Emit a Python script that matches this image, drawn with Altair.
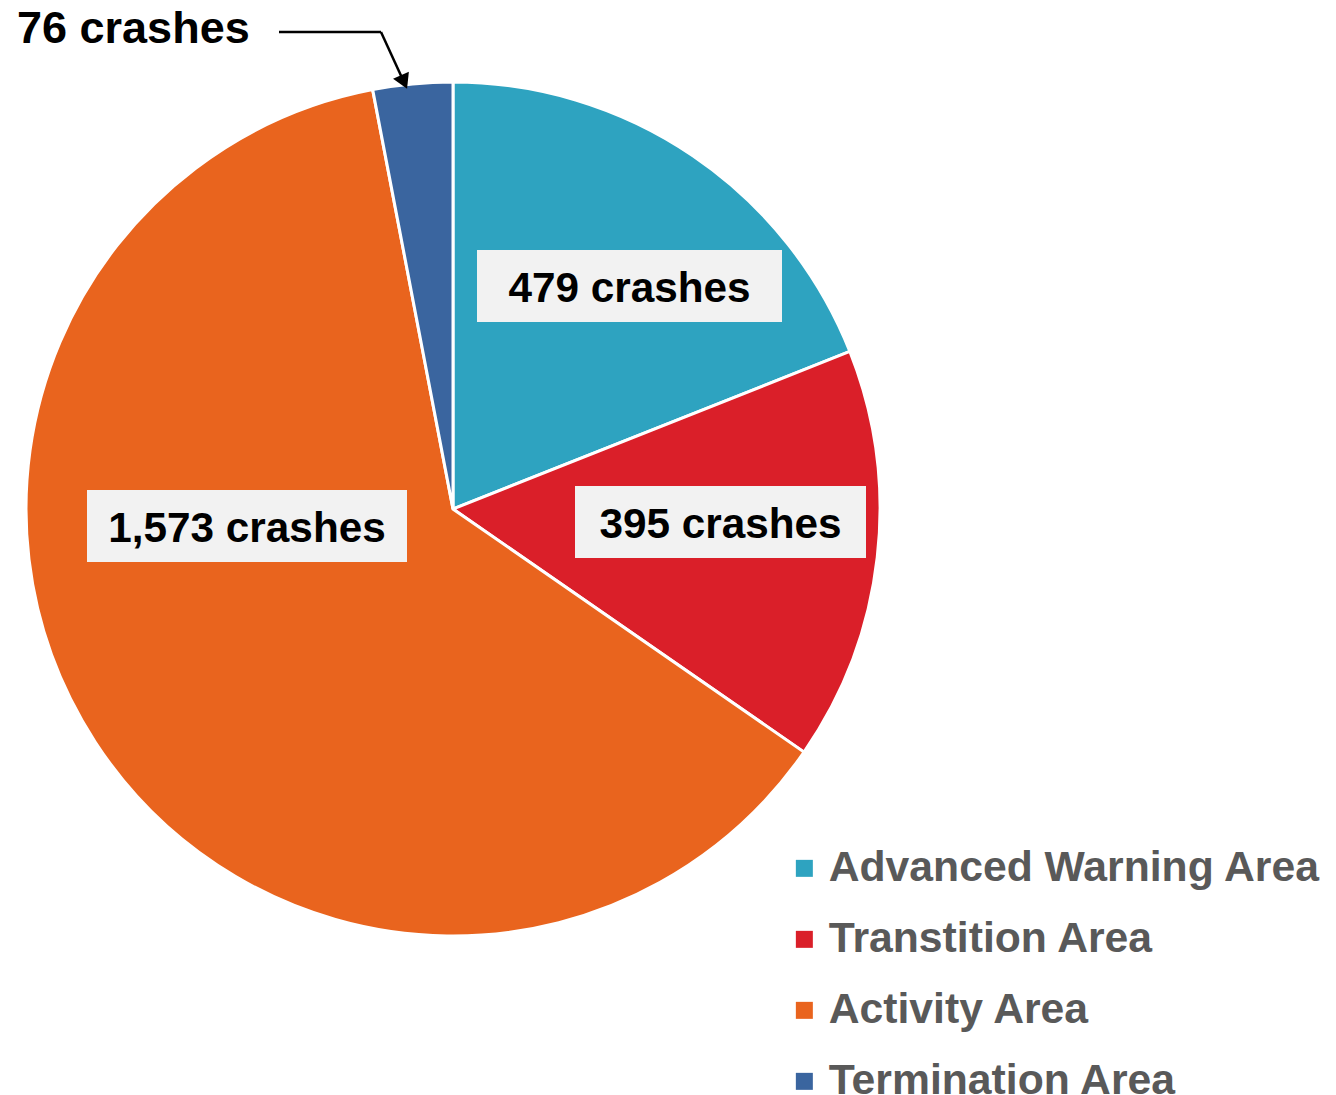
import altair as alt
import pandas as pd

categories = ["Advanced Warning Area", "Transtition Area", "Activity Area", "Termination Area"]
crashes = [479, 395, 1573, 76]
colors = ["#2EA3C0", "#DA1F29", "#E9641E", "#3A659F"]

df = pd.DataFrame({
    "area": categories,
    "crashes": crashes,
    "order": list(range(len(categories))),
})
df["label"] = df["crashes"].map(lambda v: f"{v:,} crashes")

FONT = "Liberation Sans"
base = alt.Chart(df)

pie = base.mark_arc(outerRadius=427, stroke="white", strokeWidth=3).encode(
    theta=alt.Theta("crashes:Q", stack=True),
    order=alt.Order("order:Q"),
    color=alt.Color(
        "area:N",
        scale=alt.Scale(domain=categories, range=colors),
        sort=categories,
        legend=alt.Legend(
            title=None,
            orient="none",
            legendX=775,
            legendY=839,
            padding=0,
            symbolType="square",
            symbolSize=289,
            symbolStrokeWidth=0,
            labelFont=FONT,
            labelFontSize=42.7,
            labelFontWeight="bold",
            labelColor="#595959",
            labelOffset=3,
            labelLimit=0,
            rowPadding=27,
        ),
    ),
    x=alt.value(445),
    y=alt.value(501),
)

# label box layout (center x, center y, width, height) in chart pixels
box_layout = {
    "Advanced Warning Area": (621.5, 278, 305, 72),
    "Transtition Area": (712.5, 514, 291, 72),
    "Activity Area": (239, 518, 320, 72),
}

layers = [pie]
for cat, (cx, cy, w, h) in box_layout.items():
    sub = base.transform_filter(alt.datum.area == cat)
    rect = sub.mark_rect(fill="#F2F2F2").encode(
        x=alt.value(cx - w / 2), x2=alt.value(cx + w / 2),
        y=alt.value(cy - h / 2), y2=alt.value(cy + h / 2),
    )
    txt = sub.mark_text(
        font=FONT, fontSize=42.3, fontWeight="bold", color="black",
        align="center", baseline="alphabetic",
    ).encode(text="label:N", x=alt.value(cx), y=alt.value(cy + 16))
    layers += [rect, txt]

# small slice callout
small = base.transform_filter(alt.datum.area == "Termination Area")
callout_text = small.mark_text(
    font=FONT, fontSize=45, fontWeight="bold", color="black",
    align="left", baseline="alphabetic",
).encode(text="label:N", x=alt.value(9), y=alt.value(35))
seg1 = small.mark_rule(color="black", strokeWidth=2.5).encode(
    x=alt.value(271), x2=alt.value(373), y=alt.value(24), y2=alt.value(24)
)
seg2 = small.mark_rule(color="black", strokeWidth=2.5).encode(
    x=alt.value(373), x2=alt.value(395), y=alt.value(24), y2=alt.value(72)
)
head = small.mark_point(
    shape="triangle-down", filled=True, color="black", size=300, angle=336, opacity=1
).encode(x=alt.value(396), y=alt.value(74))
layers += [callout_text, seg1, seg2, head]

chart = alt.layer(*layers).properties(
    width=1320, height=1087, autosize="none", padding=0
).configure_view(stroke=None)

chart.save("out.html", embed_options={"renderer": "svg", "actions": False})
